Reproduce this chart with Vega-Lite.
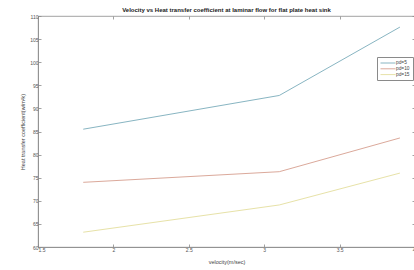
{
  "$schema": "https://vega.github.io/schema/vega-lite/v6.json",
  "width": 377,
  "height": 231,
  "autosize": {"type": "none"},
  "padding": {"left": 38, "top": 16, "right": 0, "bottom": 23},
  "background": "white",
  "config": {
    "font": "Liberation Sans",
    "view": {"stroke": "#8a8a8a", "strokeWidth": 0.8}
  },
  "title": {
    "text": "Velocity vs Heat transfer coefficient at laminar flow for flat plate heat sink",
    "fontSize": 6,
    "fontWeight": "bold",
    "color": "#222222",
    "offset": 1,
    "anchor": "middle"
  },
  "data": {
    "values": [
      {"velocity": 1.8, "h": 85.5, "series": "pd=5"},
      {"velocity": 3.1, "h": 92.8, "series": "pd=5"},
      {"velocity": 3.9, "h": 107.6, "series": "pd=5"},
      {"velocity": 1.8, "h": 74.0, "series": "pd=10"},
      {"velocity": 3.1, "h": 76.3, "series": "pd=10"},
      {"velocity": 3.9, "h": 83.6, "series": "pd=10"},
      {"velocity": 1.8, "h": 63.2, "series": "pd=15"},
      {"velocity": 3.1, "h": 69.1, "series": "pd=15"},
      {"velocity": 3.9, "h": 76.0, "series": "pd=15"}
    ]
  },
  "layer": [
    {
      "mark": {"type": "line", "strokeWidth": 1, "clip": true},
      "encoding": {
        "x": {
          "field": "velocity", "type": "quantitative",
          "scale": {"domain": [1.5, 4], "nice": false, "zero": false},
          "axis": {
            "title": "velocity(m/sec)", "titleFontSize": 5.5, "titleFontWeight": "normal", "titleColor": "#444444",
            "titlePadding": 7,
            "values": [1.5, 2, 2.5, 3, 3.5, 4], "format": "~g",
            "labelFontSize": 5, "labelColor": "#555555", "labelPadding": 3,
            "grid": false, "domainColor": "#8a8a8a", "domainWidth": 0.8,
            "tickColor": "#8a8a8a", "tickSize": -3, "tickWidth": 0.8
          }
        },
        "y": {
          "field": "h", "type": "quantitative",
          "scale": {"domain": [60, 110], "nice": false, "zero": false},
          "axis": {
            "title": "Heat transfer coefficient(w/m²k)", "titleFontSize": 5.5, "titleFontWeight": "normal", "titleColor": "#444444",
            "titlePadding": 4,
            "values": [60, 65, 70, 75, 80, 85, 90, 95, 100, 105, 110],
            "labelFontSize": 5, "labelColor": "#555555", "labelPadding": 3,
            "grid": false, "domainColor": "#8a8a8a", "domainWidth": 0.8,
            "tickColor": "#8a8a8a", "tickSize": -3, "tickWidth": 0.8
          }
        },
        "color": {
          "field": "series", "type": "nominal",
          "sort": ["pd=5", "pd=10", "pd=15"],
          "scale": {"domain": ["pd=5", "pd=10", "pd=15"], "range": ["#88b5c2", "#dba99b", "#e7e2a8"]},
          "legend": {
            "title": null, "orient": "none", "legendX": 339, "legendY": 41,
            "direction": "vertical",
            "symbolType": "M-3,0H3", "symbolSize": 25, "symbolStrokeWidth": 1, "symbolOffset": 5,
            "labelFontSize": 4.8, "labelColor": "#444444", "labelOffset": 5,
            "rowPadding": 0.8, "padding": 3, "strokeColor": "#8a8a8a", "fillColor": "white",
            "labelLimit": 40
          }
        }
      }
    },
    {
      "mark": {"type": "line", "opacity": 0},
      "encoding": {
        "x": {
          "field": "velocity", "type": "quantitative",
          "axis": {"orient": "top", "title": null, "labels": false, "domain": false, "grid": false,
                   "values": [1.5, 2, 2.5, 3, 3.5, 4], "tickColor": "#8a8a8a", "tickSize": -3, "tickWidth": 0.8}
        },
        "y": {
          "field": "h", "type": "quantitative",
          "axis": {"orient": "right", "title": null, "labels": false, "domain": false, "grid": false,
                   "values": [60, 65, 70, 75, 80, 85, 90, 95, 100, 105, 110], "tickColor": "#8a8a8a", "tickSize": -3, "tickWidth": 0.8}
        },
        "detail": {"field": "series"}
      }
    }
  ],
  "resolve": {"axis": {"x": "independent", "y": "independent"}}
}
